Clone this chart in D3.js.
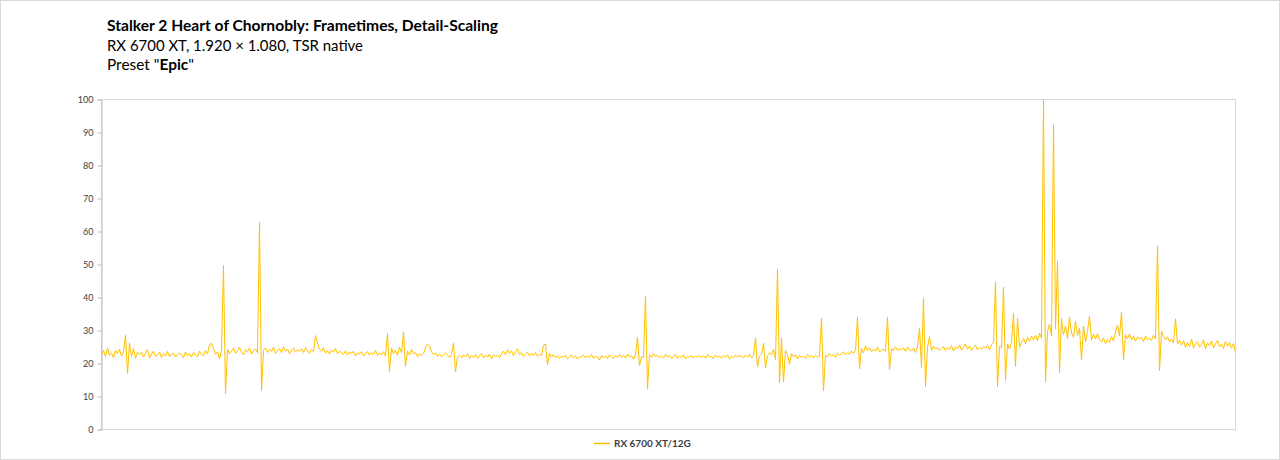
<html lang="en"><head>
<meta http-equiv="Content-Type" content="text/html; charset=UTF-8">
<title>Stalker 2 Frametimes</title>
<script type="text/javascript" src="https://cdn.jsdelivr.net/npm/d3@7"></script>
<style type="text/css">
body { margin: 0; background: #fff; }
svg text { font-family: Lato, "Open Sans", "Liberation Sans", sans-serif; }
</style>
</head>
<body>
<div id="chart"></div>
<script type="text/javascript">

// chart texts
var titleLines = ["Stalker 2 Heart of Chornobly: Frametimes, Detail-Scaling",
                  "RX 6700 XT, 1.920 \u00d7 1.080, TSR native"];
var presetLabel = "Preset \"";
var presetName = "Epic";
var seriesName = "RX 6700 XT/12G";
var yTicks = [0, 10, 20, 30, 40, 50, 60, 70, 80, 90, 100];

// frametimes in ms (one value per ~2px of the plot)
var frametimes = [
  22.5,23.8,21.9,24.6,22.3,23.1,21.6,23.9,22.8,24.2,22.1,23.4,28.4,16.8,26.1,22.0,24.4,21.4,23.3,22.6,
  23.2,21.8,22.9,24.1,21.5,22.7,23.6,22.0,22.4,23.3,21.7,22.8,22.2,23.5,21.9,22.6,23.0,21.8,22.5,23.1,
  22.3,21.6,23.4,22.1,22.9,21.8,23.2,22.4,21.9,23.6,22.5,22.2,23.8,22.7,25.6,25.9,24.3,22.6,23.4,21.2,
  23.9,49.5,10.6,24.2,22.8,23.7,24.5,22.9,23.6,24.8,23.2,22.5,24.0,23.4,24.6,22.7,23.8,24.3,23.1,62.6,
  11.6,23.8,24.6,23.2,24.1,23.5,24.8,22.9,23.7,24.4,23.1,24.9,23.6,24.2,22.8,23.9,24.5,23.3,24.0,23.6,
  24.3,23.2,24.7,23.8,22.9,24.1,23.4,28.3,26.0,24.2,23.5,24.6,23.0,23.8,22.7,23.9,23.3,24.4,22.8,23.6,
  23.1,22.6,23.7,22.4,23.3,22.9,23.6,22.2,23.0,22.7,23.4,22.1,22.9,23.5,22.4,23.2,22.6,23.8,22.3,23.0,
  22.5,23.4,22.1,29.0,17.4,24.6,22.8,23.9,22.3,24.8,23.1,29.4,19.0,23.6,22.4,24.1,22.7,23.2,21.9,22.8,
  22.4,23.0,24.6,25.8,25.2,23.4,22.6,23.1,22.0,22.8,21.9,22.5,23.1,22.3,21.7,22.6,26.0,17.4,21.8,22.3,
  21.6,22.4,21.9,22.8,21.3,22.2,21.7,22.6,21.4,22.1,22.9,21.5,22.3,21.8,22.7,21.2,22.5,21.9,22.4,21.6,
  22.8,23.6,22.4,24.1,22.9,23.7,22.2,23.4,24.3,22.6,23.1,22.0,22.7,23.3,22.1,22.9,22.4,23.2,22.0,22.6,
  22.3,25.4,25.8,19.4,22.9,21.8,22.6,21.5,22.2,21.4,22.0,21.7,22.4,21.3,21.9,22.5,21.6,22.1,21.2,21.8,
  21.9,22.4,21.5,22.2,21.7,22.6,21.4,22.0,21.8,20.9,22.3,21.6,22.1,21.3,22.5,21.9,21.4,22.2,21.7,22.6,
  21.8,22.3,21.5,22.7,21.9,22.2,21.1,22.6,27.8,19.2,22.0,21.6,40.4,12.2,22.5,21.7,22.8,21.9,22.4,21.6,
  22.1,21.5,22.6,21.8,22.3,21.3,22.0,22.7,21.4,22.2,21.6,22.5,21.2,22.0,21.7,22.4,21.5,22.1,21.8,22.3,
  21.6,22.2,21.4,22.6,21.9,22.0,21.3,22.4,21.7,22.1,21.5,22.3,21.8,22.5,21.2,22.0,21.6,22.4,21.9,22.2,
  22.0,21.6,22.4,21.8,22.6,21.5,22.2,27.6,18.8,22.1,22.7,26.0,18.4,22.3,23.1,22.5,24.2,21.0,48.5,14.0,
  27.6,14.2,23.8,22.6,19.6,22.9,21.8,22.5,21.2,22.3,21.7,22.0,21.4,22.6,21.9,22.2,21.5,22.4,21.8,22.1,
  33.6,11.5,22.4,21.8,22.9,22.1,22.6,21.7,23.0,22.3,22.8,23.4,22.5,23.1,22.7,23.6,22.9,24.0,34.0,18.2,
  24.5,23.1,25.2,23.8,24.6,23.4,24.1,23.6,24.8,23.3,23.9,24.2,23.5,34.0,18.0,24.4,23.7,24.9,23.8,24.3,
  23.9,24.6,23.5,24.8,24.0,23.7,24.5,23.2,24.9,30.5,18.6,39.7,12.8,24.8,28.0,23.9,25.1,24.2,24.7,23.8,
  24.3,25.0,23.8,24.6,24.1,25.2,23.6,24.9,24.4,25.5,23.9,24.7,25.8,24.2,25.1,23.7,24.8,25.4,24.0,24.6,
  24.2,25.0,24.5,25.3,24.0,25.6,26.4,44.6,12.7,25.1,24.6,43.0,14.8,25.8,24.2,26.3,35.0,19.0,33.6,24.8,
  26.2,27.4,25.9,27.8,26.6,28.1,27.0,28.4,26.8,29.0,27.5,100.0,14.2,29.5,31.8,28.2,92.2,30.4,51.0,17.0,
  33.5,28.6,31.2,27.4,34.0,29.1,27.8,32.6,28.3,30.5,21.0,31.2,26.4,29.8,34.2,26.9,28.7,27.3,28.9,27.1,
  26.4,27.6,25.8,27.1,26.2,28.0,26.7,29.4,31.5,28.2,35.4,21.0,28.6,27.3,28.8,27.0,28.1,26.6,27.9,27.2,
  27.8,26.5,28.2,27.0,27.6,26.8,28.4,27.3,55.5,17.6,29.6,28.2,27.0,27.9,26.4,27.3,26.0,33.4,25.8,26.9,
  25.4,26.8,24.7,26.2,25.0,27.3,24.5,25.9,26.5,24.8,25.6,27.0,24.3,26.1,25.2,26.7,24.6,25.8,26.9,24.9,
  25.7,24.4,26.6,25.1,26.2,24.5,25.9,23.2
];

var width = 1280;
var height = 460;
var margin = {left: 101, right: 45, top: 99, bottom: 31};
var lineColor = "#FFC000";

var svg = d3.select("#chart").append("svg")
        .attr("width", width)
        .attr("height", height);

// outer chart frame
svg.append("rect")
        .attr("x", 0.5).attr("y", 0.5)
        .attr("width", width - 1).attr("height", height - 1)
        .attr("fill", "#fff")
        .attr("stroke", "#d9d9d9");

// titles
svg.append("text")
        .attr("x", 107).attr("y", 31)
        .attr("font-size", 15).attr("font-weight", "bold")
        .attr("fill", "#000")
        .attr("textLength", 391).attr("lengthAdjust", "spacingAndGlyphs")
        .text(titleLines[0]);
svg.append("text")
        .attr("x", 107).attr("y", 51)
        .attr("font-size", 15)
        .attr("fill", "#000")
        .attr("textLength", 256).attr("lengthAdjust", "spacingAndGlyphs")
        .text(titleLines[1]);
var preset = svg.append("text")
        .attr("x", 107).attr("y", 70)
        .attr("font-size", 15)
        .attr("fill", "#000")
        .attr("textLength", 87).attr("lengthAdjust", "spacingAndGlyphs");
preset.append("tspan").text(presetLabel);
preset.append("tspan").attr("font-weight", "bold").text(presetName);
preset.append("tspan").text("\"");

var x = d3.scaleLinear()
        .domain([0, frametimes.length - 1])
        .range([margin.left + 0.5, width - margin.right + 0.5]);

var y = d3.scaleLinear()
        .domain([0, 100])
        .range([height - margin.bottom, margin.top]);

// plot area border
svg.append("rect")
        .attr("x", margin.left + 0.5).attr("y", margin.top + 0.5)
        .attr("width", width - margin.right - margin.left)
        .attr("height", height - margin.bottom - margin.top)
        .attr("fill", "none")
        .attr("stroke", "#d9d9d9");

var yAxis = svg.append("g")
        .attr("transform", "translate(" + (margin.left + 0.5) + ",0.5)")
        .call(d3.axisLeft(y).tickValues(yTicks).tickSize(4).tickPadding(4));
yAxis.select(".domain").attr("stroke", "#bfbfbf");
yAxis.selectAll(".tick line").attr("stroke", "#bfbfbf");
yAxis.selectAll(".tick text")
        .attr("font-size", 9)
        .attr("fill", "#404040")
        .style("font-family", "Lato, 'Open Sans', sans-serif");

var line = d3.line()
        .x(function (d, i) { return x(i); })
        .y(function (d) { return y(d); });

svg.append("path")
        .datum(frametimes)
        .attr("d", line)
        .attr("fill", "none")
        .attr("stroke", lineColor)
        .attr("stroke-width", 1)
        .attr("stroke-linejoin", "round");

// legend
svg.append("line")
        .attr("x1", 594).attr("x2", 610)
        .attr("y1", 443.5).attr("y2", 443.5)
        .attr("stroke", lineColor)
        .attr("stroke-width", 1.5);
svg.append("text")
        .attr("x", 614).attr("y", 447)
        .attr("font-size", 10).attr("font-weight", "bold")
        .attr("fill", "#404040")
        .text(seriesName);

</script>
</body></html>
